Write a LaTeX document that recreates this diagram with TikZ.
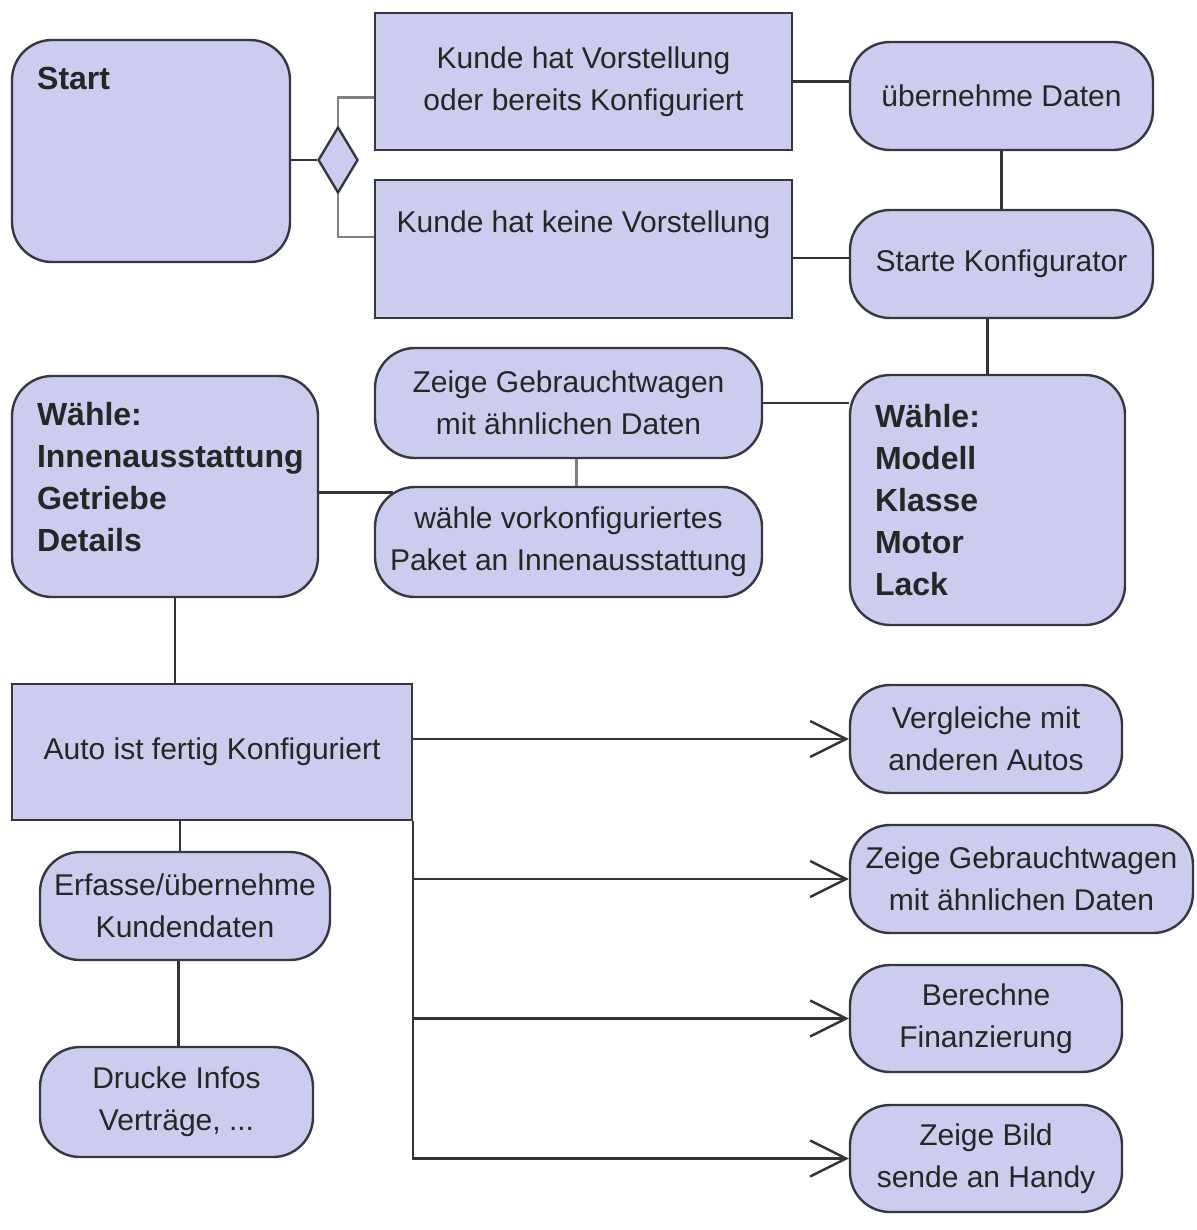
\documentclass[tikz,border=0pt]{standalone}
\usepackage{fontspec}
\setmainfont{Liberation Sans}
\usetikzlibrary{shapes.geometric, arrows.meta}
\definecolor{lila}{RGB}{204,204,238}
\definecolor{rand}{RGB}{55,55,65}

\begin{document}
\begin{tikzpicture}[x=0.5pt, y=-0.5pt,
    every node/.style={font=\fontsize{15}{21}\selectfont, text=black!85},
    box/.style={draw=rand, fill=lila, line width=1.2pt, align=center, inner sep=0pt},
    rbox/.style={box, rounded corners=20pt},
    fett/.style={font=\fontsize{16}{21}\bfseries\selectfont, align=left},
    line/.style={draw=black!80, line width=1.2pt},
    grau/.style={draw=black!50, line width=1.2pt},
    pfeil/.style={line, -{Straight Barb[length=18pt, width=18pt]}}]

    \useasboundingbox (0, 0) rectangle (1196, 1230);

    \node [rbox, minimum width=139pt, minimum height=111pt,
      label={[fett, anchor=north west, inner sep=0pt, xshift=13pt, yshift=-14pt]north west:Start}] (s) at (151, 151) {};
    \node [box, diamond, minimum width=20pt, minimum height=33pt] (d) at (338, 160) {};

    \node [box, minimum width=208.5pt, minimum height=68.5pt] (k1) at (583.5, 81.5) {Kunde hat Vorstellung\\oder bereits Konfiguriert};
    \node [box, minimum width=208.5pt, minimum height=69pt] (k2) at (583.5, 249) {Kunde hat keine Vorstellung\\ \strut};

    \node [rbox, minimum width=151.5pt, minimum height=54pt] (u) at (1001.5, 96) {übernehme Daten};
    \node [rbox, minimum width=151.5pt, minimum height=54pt] (sk) at (1001.5, 264) {Starte Konfigurator};
    \node [rbox, fett, text width=112.5pt, inner xsep=12.5pt, minimum height=125pt] (w1) at (987.5, 500)
      {Wähle:\\Modell\\Klasse\\Motor\\Lack};

    \node [rbox, minimum width=193.5pt, minimum height=55pt] (z1) at (568.5, 403) {Zeige Gebrauchtwagen\\mit ähnlichen Daten};
    \node [rbox, minimum width=193.5pt, minimum height=55pt] (wv) at (568.5, 542) {wähle vorkonfiguriertes\\Paket an Innenausstattung};
    \node [rbox, fett, text width=128pt, inner xsep=12.5pt, minimum height=110.5pt] (w2) at (165, 486.5)
      {Wähle:\\\mbox{Innenausstattung}\\Getriebe\\Details\\[-11pt]\mbox{}};

    \node [box, minimum width=200pt, minimum height=68pt] (a) at (212, 752) {Auto ist fertig Konfiguriert};
    \node [rbox, minimum width=145pt, minimum height=54pt] (e) at (185, 906) {Erfasse/übernehme\\Kundendaten};
    \node [rbox, minimum width=136.5pt, minimum height=55pt] (dr) at (176.5, 1102) {Drucke Infos\\Verträge, ...};

    \node [rbox, minimum width=136pt, minimum height=54pt] (v) at (986, 739) {Vergleiche mit\\anderen Autos};
    \node [rbox, minimum width=171.5pt, minimum height=54pt] (z2) at (1021.5, 879) {Zeige Gebrauchtwagen\\mit ähnlichen Daten};
    \node [rbox, minimum width=136pt, minimum height=53.5pt] (b) at (986, 1018.5) {Berechne\\Finanzierung};
    \node [rbox, minimum width=136pt, minimum height=53.5pt] (zb) at (986, 1158.5) {Zeige Bild\\sende an Handy};

    % Start und Auswahl
    \draw [line] (d.west) -- (d.west -| s.east);
    \draw [grau] (d.north) |- ([yshift=-8pt]k1.west);
    \draw [grau] (d.south) |- ([yshift=6pt]k2.west);

    \draw [line] (k1.east) -- (k1.east -| u.west);
    \draw [line] ([yshift=-4.5pt]k2.east) -- ([yshift=-4.5pt]k2.east -| sk.west);
    \draw [line] (u) -- (sk);
    \draw [line] (sk.south -| w1.north) -- (w1.north);

    \draw [line] (z1.east) -- (z1.east -| w1.west);
    \draw [grau] ([xshift=4pt]z1.south) -- ([xshift=4pt]wv.north);
    \draw [line] ([yshift=-3pt]w2.east) -- ([xshift=9.5pt, yshift=-3pt]wv.west |- w2.east);

    \draw [line] ([xshift=5pt]w2.south) -- ([xshift=5pt]w2.south |- a.north);
    \draw [line] ([xshift=-2.5pt]e.north) -- ([xshift=-2.5pt]e.north |- a.south);
    \draw [line] ([xshift=1pt]dr.north) -- ([xshift=1pt]dr.north |- e.south);

    % Ergebnisse
    \draw [pfeil] (a.east |- v.west) -- (v.west);
    \draw [pfeil] (a.south east) |- (z2.west);
    \draw [pfeil] (a.south east) |- (b.west);
    \draw [pfeil] (a.south east) |- (zb.west);

\end{tikzpicture}
\end{document}
